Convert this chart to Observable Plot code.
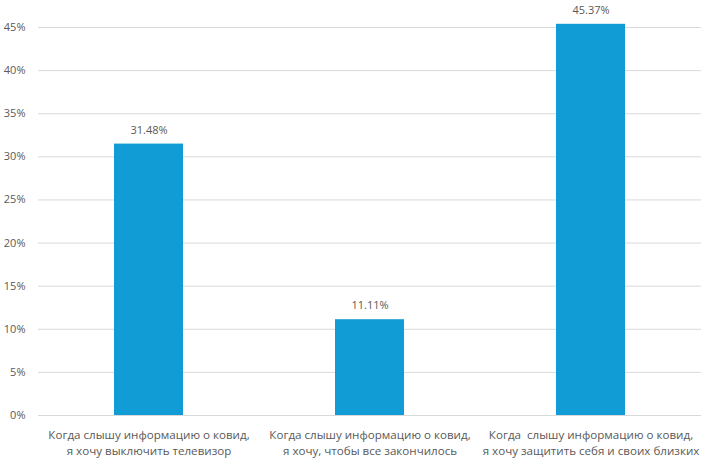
<!DOCTYPE html>
<html><head><meta charset="utf-8">
<script src="https://cdn.jsdelivr.net/npm/d3@7"></script>
<script src="https://cdn.jsdelivr.net/npm/@observablehq/plot@0.6"></script>
<style>body{margin:0;background:#fff}</style>
</head><body><div id="chart"></div>
<script>
const categories = [
  "Когда слышу информацию о ковид,\nя хочу выключить телевизор",
  "Когда слышу информацию о ковид,\nя хочу, чтобы все закончилось",
  "Когда  слышу информацию о ковид,\nя хочу защитить себя и своих близких"
];
const values = [31.48, 11.11, 45.37];
const yTicks = [0, 5, 10, 15, 20, 25, 30, 35, 40, 45];

const data = categories.map((c, i) => ({cat: c, v: values[i]}));

const chart = Plot.plot({
  width: 704, height: 462,
  marginLeft: 38, marginRight: 3, marginTop: 27, marginBottom: 47,
  style: {fontFamily: "'Open Sans', sans-serif", color: "#595959", background: "#fff"},
  x: {domain: categories, paddingInner: 0.69, paddingOuter: 0.345, align: 0.5, label: null},
  y: {domain: [0, 45], label: null},
  marks: [
    Plot.gridY(yTicks, {stroke: "#d9d9d9", strokeOpacity: 1}),
    Plot.axisY(yTicks, {tickSize: 0, tickPadding: 13, tickFormat: d => d + "%", fontSize: 11, fill: "#595959"}),
    Plot.axisX({tickSize: 0, tickPadding: 12, fontSize: 11.6, fill: "#595959", lineHeight: 1.38, textOverflow: null}),
    Plot.barY(data, {x: "cat", y: "v", fill: "#129cd6"}),
    Plot.text(data, {x: "cat", y: "v", text: d => d.v.toFixed(2) + "%", dy: -14, fontSize: 11, fill: "#595959"})
  ]
});
document.getElementById("chart").append(chart);
</script></body></html>
